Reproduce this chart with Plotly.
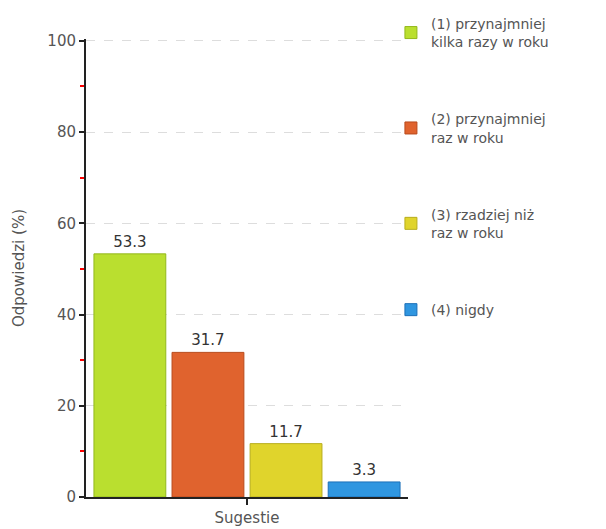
import plotly.graph_objects as go

category = ["Sugestie"]
series_names = [
    "(1) przynajmniej<br>kilka razy w roku",
    "(2) przynajmniej<br>raz w roku",
    "(3) rzadziej niż<br>raz w roku",
    "(4) nigdy",
]
values = [53.3, 31.7, 11.7, 3.3]
fill_colors = ["#badf2f", "#e0632e", "#e0d42c", "#2f96e0"]
line_colors = ["#93b81c", "#b84a1c", "#b8ad1c", "#1c70b8"]

fig = go.Figure()
for i, (name, v) in enumerate(zip(series_names, values)):
    fig.add_trace(go.Bar(
        x=category, y=[v], name=name,
        marker=dict(color=fill_colors[i], line=dict(color=line_colors[i], width=1)),
        text=[f"{v:.1f}"], textposition="outside", cliponaxis=False,
        textfont=dict(color="#333333", size=15, family="DejaVu Sans"),
        legendgroup=f"g{i}",
    ))

fig.update_layout(
    width=598, height=521,
    margin=dict(l=78, r=198, t=31, b=32, autoexpand=False),
    paper_bgcolor="white", plot_bgcolor="white",
    barmode="group", bargap=0.03, bargroupgap=0.08,
    font=dict(family="DejaVu Sans", color="#555555", size=14),
    showlegend=True,
    legend=dict(x=0.947, xanchor="left", y=1.068, yanchor="top",
                tracegroupgap=56, font=dict(size=14, color="#555555"),
                itemwidth=30, maxheight=515, bgcolor="rgba(0,0,0,0)"),
)
fig.update_yaxes(
    range=[0, 100.4], tickvals=[0, 20, 40, 60, 80, 100], showline=True,
    linecolor="#222222", linewidth=2, automargin=False,
    ticks="outside", ticklen=5, tickcolor="#222222", tickwidth=2,
    showgrid=True, gridcolor="#dddddd", griddash="dash", gridwidth=1,
    zeroline=False,
    minor=dict(tickvals=[10, 30, 50, 70, 90], ticks="outside", ticklen=4,
               tickcolor="red", tickwidth=2, showgrid=False),
    title=dict(text="Odpowiedzi (%)", font=dict(size=15, color="#555555"), standoff=19),
    tickfont=dict(size=15, color="#555555"),
)
fig.update_xaxes(
    showline=True, linecolor="#222222", linewidth=2, automargin=False,
    ticks="outside", ticklen=6, tickcolor="#222222", tickwidth=2,
    tickfont=dict(size=15, color="#555555"),
    showgrid=False,
)

fig.write_html("out.html")
